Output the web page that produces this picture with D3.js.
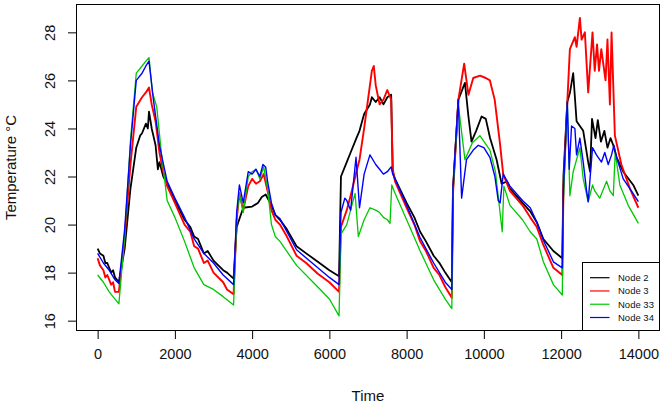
<!DOCTYPE html>
<html>
<head>
<meta charset="utf-8">
<script src="https://cdn.jsdelivr.net/npm/d3@7"></script>
<style>
  html, body { margin: 0; padding: 0; background: #fff; }
  svg { display: block; font-family: "Liberation Sans", Arial, Helvetica, sans-serif; }
</style>
</head>
<body>
<svg id="chart" width="663" height="408"></svg>
<script>
// ---------------- data (time, temperature °C) ----------------
const seriesNames = ["Node 2", "Node 3", "Node 33", "Node 34"];
const xTicks = [0, 2000, 4000, 6000, 8000, 10000, 12000, 14000];
const yTicks = [16, 18, 20, 22, 24, 26, 28];

const node2 = [
  [0,19.0],[60,18.8],[150,18.7],[200,18.4],[250,18.4],[350,18.0],[400,18.1],[450,17.8],[550,17.6],[700,19.0],[850,21.5],[1000,23.2],[1100,23.7],[1150,23.8],[1250,24.2],[1300,24.0],[1330,24.7],[1400,24.0],[1500,23.3],[1560,22.3],[1600,22.6],[1700,22.0],[1800,21.7],[2000,21.0],[2250,20.2],[2400,19.9],[2500,19.5],[2600,19.4],[2750,18.8],[2850,18.9],[3000,18.5],[3250,18.1],[3350,18.0],[3520,17.75],
  [3600,19.9],[3770,20.7],[4000,20.75],[4150,20.9],[4250,21.15],[4350,21.25],[4500,20.8],[4600,20.4],[4720,20.2],[4900,19.8],[5150,19.1],[5400,18.8],[5700,18.45],[6000,18.1],[6250,17.85],
  [6300,22.0],[6450,22.6],[6550,23.0],[6700,23.6],[6780,23.9],[6900,24.6],[7050,25.0],[7100,25.3],[7200,25.1],[7300,25.3],[7400,25.0],[7500,25.3],[7600,25.4],[7640,22.2],[7700,21.9],[8000,20.9],[8200,20.3],[8350,19.7],[8500,19.3],[8700,18.7],[8850,18.4],[9000,18.0],[9170,17.6],
  [9200,21.5],[9340,25.2],[9510,25.9],[9600,24.5],[9680,23.45],[9800,23.9],[9940,24.5],[10050,24.4],[10160,23.6],[10330,22.7],[10460,21.7],[10600,21.8],[10675,21.5],[11000,20.9],[11200,20.55],[11370,20.1],[11540,19.4],[11800,18.9],[12030,18.6],
  [12060,22.0],[12160,25.1],[12230,25.5],[12313,26.3],[12400,24.3],[12572,23.9],[12701,22.6],[12750,22.2],[12800,24.4],[12890,23.6],[12950,24.35],[13030,23.45],[13120,23.9],[13200,23.2],[13280,23.6],[13350,23.3],[13436,22.8],[13608,22.2],[13867,21.65],[14000,21.2]
];
const node3 = [
  [0,18.6],[60,18.3],[150,18.1],[200,17.8],[250,17.9],[350,17.5],[400,17.6],[450,17.2],[550,17.2],[700,19.5],[850,22.5],[1000,24.9],[1150,25.3],[1250,25.5],[1330,25.7],[1400,25.0],[1500,24.3],[1600,23.0],[1700,22.2],[1800,21.6],[2000,20.9],[2250,20.0],[2400,19.7],[2500,19.1],[2600,19.0],[2750,18.4],[2850,18.5],[3000,18.0],[3250,17.6],[3350,17.3],[3520,17.1],
  [3600,20.2],[3670,21.3],[3770,20.6],[3900,21.6],[4000,21.9],[4100,21.7],[4200,21.8],[4300,22.1],[4400,21.4],[4500,20.6],[4600,20.2],[4720,20.0],[4900,19.5],[5150,18.7],[5400,18.4],[5700,17.95],[6000,17.6],[6250,17.2],
  [6300,19.9],[6450,20.6],[6550,21.2],[6700,22.2],[6780,22.7],[6900,24.0],[7000,25.2],[7100,26.4],[7150,26.6],[7200,25.8],[7300,25.0],[7400,25.2],[7500,25.6],[7600,25.2],[7640,22.3],[7700,21.8],[8000,20.7],[8200,20.0],[8350,19.3],[8500,18.9],[8700,18.2],[8850,17.9],[9000,17.4],[9170,16.95],
  [9200,21.3],[9340,25.2],[9490,26.7],[9600,25.4],[9725,26.1],[9900,26.2],[10050,26.1],[10156,26.0],[10280,25.2],[10415,23.4],[10500,22.1],[10675,21.4],[11000,20.8],[11200,20.3],[11370,19.9],[11540,19.15],[11800,18.2],[12030,17.9],
  [12060,21.5],[12160,25.1],[12227,27.3],[12356,27.8],[12400,27.4],[12486,28.6],[12530,27.7],[12615,28.0],[12701,25.5],[12813,28.0],[12870,26.4],[12930,27.5],[12980,26.4],[13040,27.3],[13150,26.0],[13200,27.7],[13263,25.0],[13306,28.0],[13392,23.7],[13560,22.5],[13781,21.5],[14000,20.7]
];
const node33 = [
  [0,17.9],[150,17.6],[300,17.2],[450,16.9],[550,16.7],[700,19.5],[850,23.5],[1000,26.3],[1150,26.6],[1250,26.8],[1330,26.95],[1420,25.5],[1530,24.9],[1650,23.0],[1800,21.0],[2000,20.3],[2250,19.3],[2500,18.2],[2750,17.5],[3000,17.3],[3250,17.0],[3520,16.65],
  [3600,20.3],[3670,21.3],[3770,20.5],[3900,22.0],[4000,22.2],[4100,22.3],[4200,21.9],[4300,22.4],[4400,21.5],[4500,20.0],[4600,19.5],[4720,19.3],[5150,18.3],[5700,17.4],[6000,16.9],[6250,16.2],
  [6300,19.6],[6450,20.0],[6550,20.6],[6665,21.3],[6750,19.5],[6900,20.2],[7050,20.7],[7200,20.6],[7300,20.5],[7400,20.3],[7500,20.2],[7570,20.05],[7615,21.65],[7700,21.3],[8000,20.2],[8350,18.9],[8700,17.7],[9000,16.9],[9170,16.5],
  [9200,21.3],[9337,25.0],[9510,22.7],[9700,23.4],[9898,23.7],[10156,23.1],[10300,22.2],[10475,19.7],[10518,21.6],[10675,20.8],[11000,20.2],[11200,19.7],[11370,19.4],[11540,18.45],[11800,17.5],[12030,17.07],
  [12060,21.0],[12160,25.1],[12227,21.2],[12313,22.2],[12486,23.2],[12572,21.9],[12701,20.95],[12813,21.65],[12870,21.4],[13000,21.1],[13177,21.8],[13263,21.4],[13350,21.2],[13401,23.0],[13520,21.65],[13737,20.8],[14000,20.05]
];
const node34 = [
  [0,18.8],[150,18.4],[300,18.1],[450,17.7],[550,17.55],[700,19.8],[850,23.3],[1000,26.0],[1150,26.3],[1250,26.6],[1330,26.8],[1440,25.25],[1600,23.3],[1800,21.8],[2000,21.1],[2250,20.3],[2500,19.4],[2750,18.8],[3000,18.4],[3250,17.9],[3520,17.5],
  [3600,20.5],[3670,21.65],[3770,20.9],[3900,22.2],[4000,22.1],[4100,22.3],[4200,22.0],[4280,22.5],[4350,22.4],[4400,21.8],[4500,20.9],[4600,20.4],[4720,20.25],[5150,18.95],[5700,18.2],[6000,17.8],[6250,17.5],
  [6300,20.5],[6400,21.1],[6450,21.0],[6550,20.6],[6690,22.8],[6780,20.7],[6900,22.1],[7050,22.9],[7200,22.5],[7300,22.3],[7400,22.1],[7500,22.2],[7600,22.4],[7640,22.1],[7700,21.9],[8000,20.8],[8350,19.45],[8700,18.4],[9000,17.6],[9170,17.3],
  [9200,21.5],[9337,25.2],[9424,21.1],[9550,22.7],[9725,23.1],[9855,23.3],[10000,23.2],[10156,22.8],[10285,22.0],[10372,21.0],[10420,20.9],[10500,22.1],[10675,21.6],[11000,21.0],[11200,20.7],[11370,20.1],[11540,19.35],[11800,18.45],[12030,18.2],
  [12060,21.5],[12160,25.1],[12210,22.3],[12270,24.1],[12356,24.0],[12400,22.9],[12486,23.6],[12572,22.6],[12660,21.4],[12701,20.95],[12813,23.2],[12915,22.9],[13045,22.6],[13130,23.0],[13220,22.5],[13306,22.9],[13366,23.3],[13436,22.8],[13608,21.9],[13820,21.4],[14000,20.95]
];
const seriesData = [node2, node3, node33, node34];
const seriesColors = ["#000000", "#ff0000", "#00c800", "#0000ff"];
const seriesWidths = [1.8, 1.9, 1.3, 1.4];

// ---------------- layout ----------------
const svg = d3.select("#chart");
const plot = { left: 76, right: 660, top: 4, bottom: 331 };

const x = d3.scaleLinear().domain([-560, 14560]).range([plot.left, plot.right]);
const y = d3.scaleLinear().domain([15.57, 29.18]).range([plot.bottom, plot.top]);

// series lines
const line = d3.line().x(d => x(d[0])).y(d => y(d[1]));
seriesData.forEach((s, i) => {
  svg.append("path")
    .datum(s)
    .attr("d", line)
    .attr("fill", "none")
    .attr("stroke", seriesColors[i])
    .attr("stroke-width", seriesWidths[i])
    .attr("stroke-linejoin", "round");
});

// plot box
svg.append("rect")
  .attr("x", plot.left + 0.5).attr("y", plot.top + 0.5)
  .attr("width", plot.right - plot.left - 1).attr("height", plot.bottom - plot.top - 1)
  .attr("fill", "none").attr("stroke", "#000").attr("stroke-width", 1);

// x axis
const xAxis = d3.axisBottom(x).tickValues(xTicks).tickFormat(d3.format("d")).tickSize(8.5).tickPadding(10);
const gx = svg.append("g").attr("transform", `translate(0,${plot.bottom - 0.5})`).call(xAxis);
gx.select(".domain").remove();
gx.selectAll("text").attr("font-size", 14.5).attr("fill", "#111").attr("font-family", null);

// y axis
const yAxis = d3.axisLeft(y).tickValues(yTicks).tickSize(8.5).tickFormat(d3.format("d"));
const gy = svg.append("g").attr("transform", `translate(${plot.left + 0.5},0)`).call(yAxis);
gy.select(".domain").remove();
gy.selectAll("text")
  .attr("font-size", 14.5).attr("fill", "#111").attr("font-family", null)
  .attr("x", null).attr("dy", null)
  .attr("text-anchor", "middle")
  .attr("dominant-baseline", "central")
  .attr("transform", `translate(-27,0) rotate(-90)`);
gy.selectAll("text").attr("y", 0);

// axis titles
svg.append("text")
  .attr("x", (plot.left + plot.right) / 2).attr("y", 401)
  .attr("text-anchor", "middle").attr("font-size", 15).attr("fill", "#111")
  .text("Time");
svg.append("text")
  .attr("transform", `translate(16,${(plot.top + plot.bottom) / 2}) rotate(-90)`)
  .attr("text-anchor", "middle").attr("font-size", 15).attr("fill", "#111")
  .text("Temperature °C");

// legend
const lg = { left: 582, top: 262, right: 660, bottom: 331 };
svg.append("rect")
  .attr("x", lg.left + 0.5).attr("y", lg.top + 0.5)
  .attr("width", lg.right - lg.left - 1).attr("height", lg.bottom - lg.top - 1)
  .attr("fill", "#fff").attr("stroke", "#000");
const rowY = d3.scalePoint().domain(seriesNames).range([277.7, 317.5]);
seriesNames.forEach((name, i) => {
  svg.append("line")
    .attr("x1", 590).attr("x2", 609.5)
    .attr("y1", rowY(name)).attr("y2", rowY(name))
    .attr("stroke", seriesColors[i]).attr("stroke-width", 1.2);
  svg.append("text")
    .attr("x", 618).attr("y", rowY(name))
    .attr("dominant-baseline", "central")
    .attr("font-size", 9.5).attr("fill", "#111")
    .text(name);
});
</script>
</body>
</html>
